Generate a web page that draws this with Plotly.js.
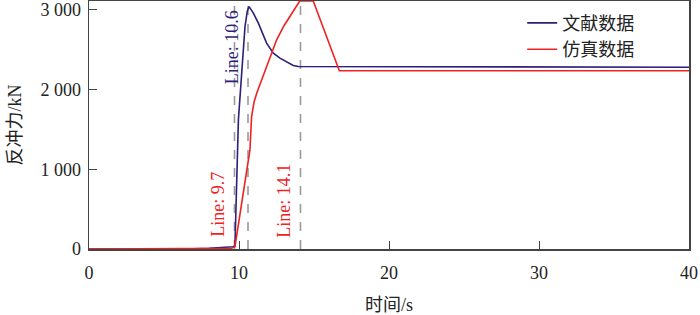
<!DOCTYPE html>
<html>
<head>
<meta charset="utf-8">
<script src="https://cdn.plot.ly/plotly-3.0.1.min.js"></script>
<style>html,body{margin:0;padding:0;background:#fff;}#chart{width:700px;height:315px;}</style>
</head>
<body>
<div id="chart"></div>
<script>
// Literature data (文献数据)
const litTime  = [0, 6.5, 8, 9.3, 9.6, 9.73, 9.85, 9.96, 10.18, 10.4, 10.55, 10.67, 10.96, 11.29, 11.84, 12.29, 12.73, 13.18, 13.62, 13.96, 20, 30, 40];
const litForce = [0, 0, 10, 22, 28, 40, 800, 1619, 2205, 2790, 2980, 3040, 2958, 2833, 2582, 2456, 2393, 2351, 2301, 2288, 2288, 2286, 2280];
// Simulation data (仿真数据)
const simTime  = [0, 9.5, 9.73, 10.0, 10.4, 10.73, 10.84, 11.0, 11.18, 11.6, 12.0, 12.51, 13.0, 13.5, 14.05, 14.95, 16.69, 25, 40];
const simForce = [0, 10, 30, 350, 820, 1243, 1661, 1840, 1954, 2170, 2380, 2623, 2800, 2950, 3110, 3110, 2235, 2235, 2235];
// Marker lines
const lineX      = [9.7, 10.6, 14.1];
const lineLabels = ["Line: 9.7", "Line: 10.6", "Line: 14.1"];
const lineLabelY = [560, 2530, 600];
const lineColors = ["#ee2222", "#2e1f78", "#ee2222"];
// Ticks
const xTicks = [0, 10, 20, 30, 40];
const yTicks = [0, 1000, 2000, 3000];
const yTickText = ["0", "1 000", "2 000", "3 000"];

const serif = "'Liberation Serif', 'Times New Roman', serif";
const cjk = "'Liberation Serif', 'Noto Sans CJK SC', serif";

const traces = [
  {x: litTime, y: litForce, type: "scatter", mode: "lines", name: "文献数据",
   line: {color: "#2e1f78", width: 1.6}},
  {x: simTime, y: simForce, type: "scatter", mode: "lines", name: "仿真数据",
   line: {color: "#ee2222", width: 1.6}}
];

const shapes = lineX.map(v => ({
  type: "line", xref: "x", yref: "paper", x0: v, x1: v, y0: 0, y1: 1,
  line: {color: "#9a9a9a", width: 1.6, dash: "dash"}, layer: "below"
}));

const annotations = lineX.map((v, i) => ({
  x: v, y: lineLabelY[i], xref: "x", yref: "y", text: lineLabels[i],
  textangle: -90, showarrow: false, xshift: -16,
  font: {family: serif, size: 18, color: lineColors[i]}
}));

const layout = {
  width: 700, height: 315,
  margin: {l: 89, r: 11, t: 1, b: 66},
  paper_bgcolor: "#fff", plot_bgcolor: "#fff",
  showlegend: true,
  legend: {x: 0.722, y: 0.985, xanchor: "left", yanchor: "top",
           font: {family: cjk, size: 18, color: "#222"}, bgcolor: "rgba(0,0,0,0)",
           tracegroupgap: 0, itemwidth: 30},
  xaxis: {range: [0, 40], tickvals: xTicks, ticks: "inside", ticklen: 8,
          showgrid: false, zeroline: false, showline: true, mirror: true,
          linecolor: "#444", linewidth: 1.5, tickcolor: "#444", ticklabelstandoff: 7,
          tickfont: {family: serif, size: 18, color: "#222"},
          title: {text: "时间/s", font: {family: cjk, size: 18, color: "#222"}, standoff: 16}},
  yaxis: {range: [0, 3110], tickvals: yTicks, ticktext: yTickText, ticks: "inside", ticklen: 8,
          showgrid: false, zeroline: false, showline: true, mirror: true,
          linecolor: "#444", linewidth: 1.5, tickcolor: "#444", ticklabelstandoff: 3,
          tickfont: {family: serif, size: 18, color: "#222"},
          title: {text: "反冲力/kN", font: {family: cjk, size: 18, color: "#222"}, standoff: 14}},
  shapes: shapes,
  annotations: annotations
};

Plotly.newPlot("chart", traces, layout, {displayModeBar: false, staticPlot: true});
</script>
</body>
</html>
